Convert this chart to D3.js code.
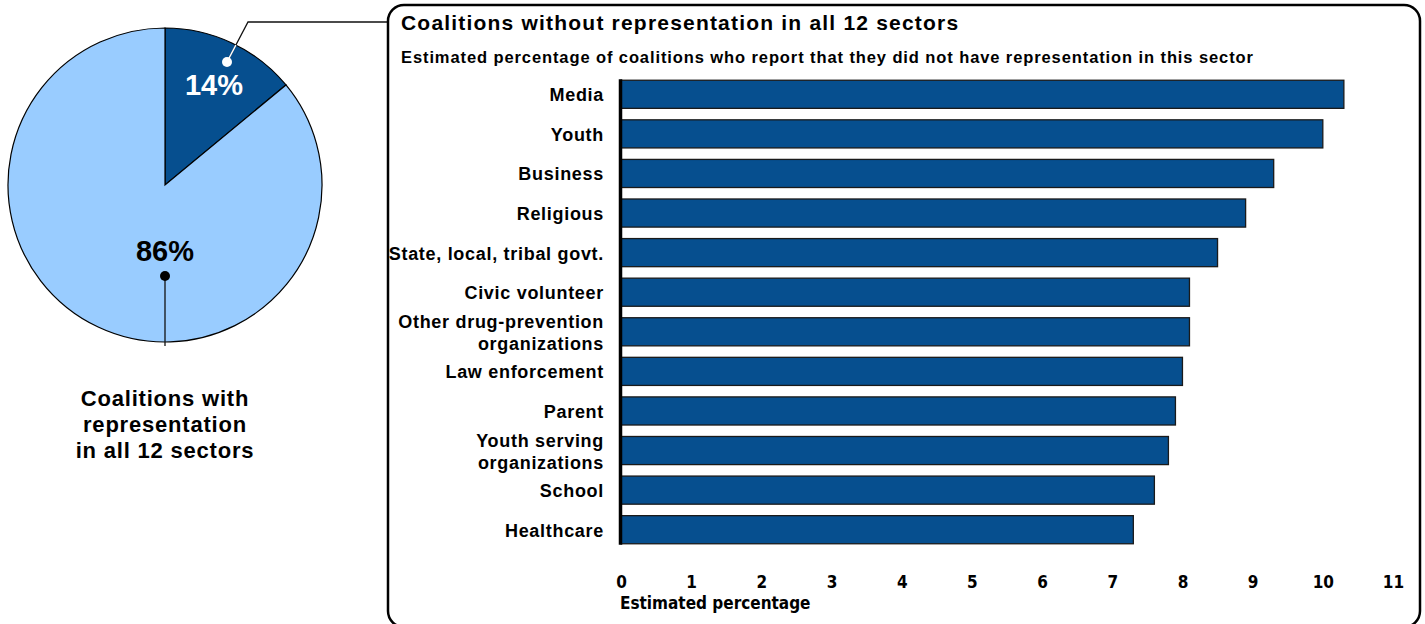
<!DOCTYPE html>
<html>
<head>
<meta charset="utf-8">
<script src="https://cdn.jsdelivr.net/npm/d3@7"></script>
<style>
  html, body { margin: 0; padding: 0; background: #fff; }
  svg { display: block; font-family: "Liberation Sans", Arial, sans-serif; }
</style>
</head>
<body>
<svg id="chart" width="1425" height="624"></svg>
<script>
// Share of coalitions with / without representation in all 12 sectors
const pieLabels = ["Without all 12 sectors", "With all 12 sectors"];
const pieValues = [14, 86];

// Sectors lacking representation (estimated percentage of coalitions)
const sectors = [
  "Media", "Youth", "Business", "Religious", "State, local, tribal govt.",
  "Civic volunteer", "Other drug-prevention organizations", "Law enforcement",
  "Parent", "Youth serving organizations", "School", "Healthcare"
];
const sectorLines = [
  ["Media"], ["Youth"], ["Business"], ["Religious"], ["State, local, tribal govt."],
  ["Civic volunteer"], ["Other drug-prevention", "organizations"], ["Law enforcement"],
  ["Parent"], ["Youth serving", "organizations"], ["School"], ["Healthcare"]
];
const sectorValues = [10.3, 10.0, 9.3, 8.9, 8.5, 8.1, 8.1, 8.0, 7.9, 7.8, 7.6, 7.3];
const xTicks = [0, 1, 2, 3, 4, 5, 6, 7, 8, 9, 10, 11];

const DARK = "#064f8f";
const LIGHT = "#99ccff";
const NARROW = "'Liberation Sans Narrow', 'DejaVu Sans Condensed', sans-serif";

const svg = d3.select("#chart");

// ---------- Pie ----------
const cx = 165, cy = 185, R = 157;
const pieG = svg.append("g").attr("transform", `translate(${cx},${cy})`);
const pie = d3.pie().sort(null).value(d => d)(pieValues);
const arc = d3.arc().innerRadius(0).outerRadius(R);

pieG.selectAll("path.slice")
  .data(pie)
  .join("path")
  .attr("class", "slice")
  .attr("d", arc)
  .attr("fill", (d, i) => i === 0 ? DARK : LIGHT)
  .attr("stroke", "#000")
  .attr("stroke-width", 1.2);

svg.append("defs").append("clipPath").attr("id", "darkSlice")
  .append("path").attr("d", arc(pie[0]))
  .attr("transform", `translate(${cx},${cy})`);

// leader from the small slice to the bar panel
const leader = [[227, 62], [248, 22], [389, 22]];
svg.append("path")
  .attr("d", d3.line()(leader))
  .attr("fill", "none").attr("stroke", "#111").attr("stroke-width", 1.3);
svg.append("path")
  .attr("d", d3.line()(leader))
  .attr("clip-path", "url(#darkSlice)")
  .attr("fill", "none").attr("stroke", "#fff").attr("stroke-width", 1.5);
svg.append("circle").attr("cx", 227).attr("cy", 62).attr("r", 5).attr("fill", "#fff");

svg.append("text")
  .attr("x", 214).attr("y", 95)
  .attr("text-anchor", "middle")
  .attr("font-weight", "bold").attr("font-size", 29)
  .attr("fill", "#fff")
  .text(pieValues[0] + "%");

svg.append("text")
  .attr("x", cx).attr("y", 261)
  .attr("text-anchor", "middle")
  .attr("font-weight", "bold").attr("font-size", 29)
  .attr("fill", "#000")
  .text(pieValues[1] + "%");

svg.append("line")
  .attr("x1", cx).attr("y1", 276).attr("x2", cx).attr("y2", 346)
  .attr("stroke", "#111").attr("stroke-width", 1.3);
svg.append("circle").attr("cx", cx).attr("cy", 276).attr("r", 5).attr("fill", "#000");

const pieNote = ["Coalitions with", "representation", "in all 12 sectors"];
svg.append("text")
  .attr("text-anchor", "middle")
  .attr("font-weight", "bold").attr("font-size", 22)
  .attr("letter-spacing", 0.8)
  .selectAll("tspan")
  .data(pieNote)
  .join("tspan")
  .attr("x", cx)
  .attr("y", (d, i) => 406 + i * 26)
  .text(d => d);

// ---------- Bar panel ----------
svg.append("rect")
  .attr("x", 388).attr("y", 5)
  .attr("width", 1032).attr("height", 622)
  .attr("rx", 16).attr("ry", 16)
  .attr("fill", "#fff")
  .attr("stroke", "#000").attr("stroke-width", 2.5);

svg.append("text")
  .attr("x", 401).attr("y", 30)
  .attr("font-weight", "bold").attr("font-size", 21)
  .attr("letter-spacing", 1.2)
  .text("Coalitions without representation in all 12 sectors");

svg.append("text")
  .attr("x", 401).attr("y", 63)
  .attr("font-weight", "bold").attr("font-size", 16.5)
  .attr("letter-spacing", 0.9)
  .text("Estimated percentage of coalitions who report that they did not have representation in this sector");

const x = d3.scaleLinear().domain([0, 11]).range([621, 1393]);
const y = d3.scaleBand().domain(sectors).range([74.5, 549.5]).paddingInner(0.29).paddingOuter(0.145);

svg.append("g")
  .selectAll("rect.bar")
  .data(sectors)
  .join("rect")
  .attr("class", "bar")
  .attr("x", x(0))
  .attr("y", d => y(d))
  .attr("width", (d, i) => x(sectorValues[i]) - x(0))
  .attr("height", y.bandwidth())
  .attr("fill", DARK)
  .attr("stroke", "#1a1a1a")
  .attr("stroke-width", 1.3);

// category labels
const labG = svg.append("g")
  .attr("font-weight", "bold").attr("font-size", 18)
  .attr("letter-spacing", 0.7)
  .attr("text-anchor", "end");
sectors.forEach((s, i) => {
  const lines = sectorLines[i];
  const mid = y(s) + y.bandwidth() / 2;
  const lh = 22;
  const t = labG.append("text");
  lines.forEach((ln, j) => {
    t.append("tspan")
      .attr("x", 604)
      .attr("y", mid + 7 + (j - (lines.length - 1) / 2) * lh)
      .text(ln);
  });
});

// vertical axis line
svg.append("line")
  .attr("x1", x(0) - 0.5).attr("x2", x(0) - 0.5)
  .attr("y1", y(sectors[0]) - 1).attr("y2", y(sectors[sectors.length - 1]) + y.bandwidth() + 1)
  .attr("stroke", "#000").attr("stroke-width", 3.5);

// x axis tick labels (no domain line / tick marks)
const xAxis = d3.axisBottom(x).tickValues(xTicks).tickSize(0).tickPadding(0);
const axG = svg.append("g")
  .attr("transform", "translate(0,576)")
  .call(xAxis);
axG.select(".domain").remove();
axG.selectAll("text")
  .attr("font-family", NARROW)
  .attr("font-weight", "bold")
  .attr("font-size", 17)
  .attr("fill", "#000");

svg.append("text")
  .attr("x", 620).attr("y", 609)
  .attr("font-family", NARROW)
  .attr("font-weight", "bold").attr("font-size", 17)
  .text("Estimated percentage");
</script>
</body>
</html>
